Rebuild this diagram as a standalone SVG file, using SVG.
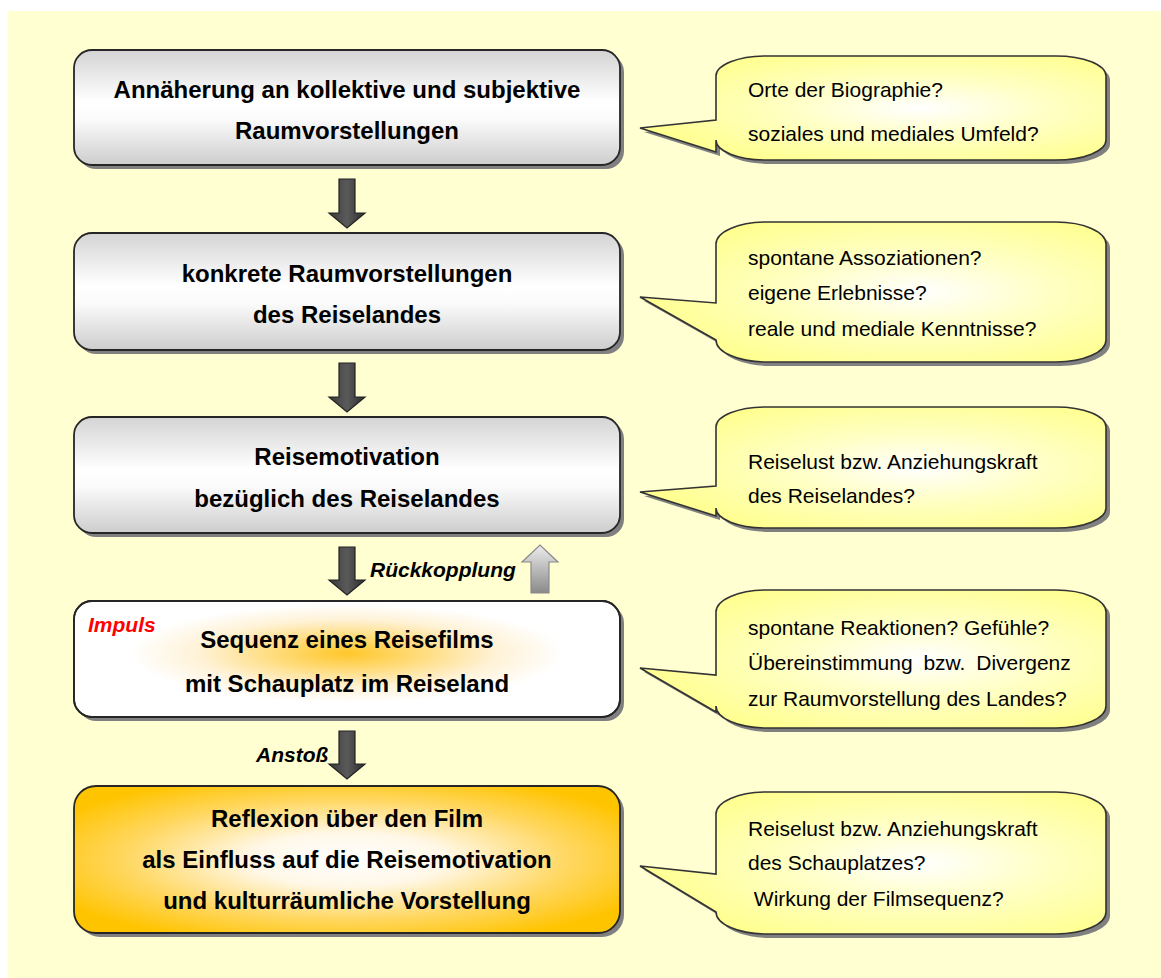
<svg xmlns="http://www.w3.org/2000/svg" width="1161" height="978" viewBox="0 0 1161 978">
  <defs>
    <linearGradient id="gGray" x1="0" y1="0" x2="0" y2="1">
      <stop offset="0" stop-color="#d4d4d4"/>
      <stop offset="0.45" stop-color="#ffffff"/>
      <stop offset="0.6" stop-color="#fbfbfb"/>
      <stop offset="1" stop-color="#cdcdcd"/>
    </linearGradient>
    <radialGradient id="gImpuls" cx="0.5" cy="0.45" r="0.5">
      <stop offset="0" stop-color="#ffc72a"/>
      <stop offset="0.3" stop-color="#ffdc7c"/>
      <stop offset="0.6" stop-color="#fff2d6"/>
      <stop offset="0.88" stop-color="#ffffff"/>
      <stop offset="1" stop-color="#ffffff"/>
    </radialGradient>
    <radialGradient id="gGold" cx="0.5" cy="0.5" r="0.6">
      <stop offset="0" stop-color="#ffffff"/>
      <stop offset="0.3" stop-color="#fff8e8"/>
      <stop offset="0.68" stop-color="#ffd760"/>
      <stop offset="1" stop-color="#ffc400"/>
    </radialGradient>
    <radialGradient id="gBubble" cx="0.6" cy="0.5" r="0.6">
      <stop offset="0" stop-color="#ffffff"/>
      <stop offset="0.45" stop-color="#ffffc6"/>
      <stop offset="1" stop-color="#ffff90"/>
    </radialGradient>
    <linearGradient id="gDark" x1="0" y1="0" x2="1" y2="0">
      <stop offset="0" stop-color="#3a3a3a"/>
      <stop offset="0.5" stop-color="#5a5a5a"/>
      <stop offset="1" stop-color="#2e2e2e"/>
    </linearGradient>
    <linearGradient id="gLight" x1="0" y1="0" x2="0" y2="1">
      <stop offset="0" stop-color="#ececec"/>
      <stop offset="1" stop-color="#8a8a8a"/>
    </linearGradient>
  </defs>
  <style>
    .box { stroke: #262626; stroke-width: 1.8; }
    .shadow { fill: #808080; }
    .bubble { fill: url(#gBubble); stroke: #333333; stroke-width: 1.6; }
    .main { font-family: "Liberation Sans", Arial, sans-serif; font-weight: bold; font-size: 24px; fill: #000000; text-anchor: middle; }
    .note { font-family: "Liberation Sans", Arial, sans-serif; font-size: 21px; fill: #000000; }
    .tag { font-family: "Liberation Sans", Arial, sans-serif; font-weight: bold; font-style: italic; font-size: 21px; fill: #000000; }
    .red { fill: #ff0000; }
    .down { fill: url(#gDark); stroke: #222222; stroke-width: 1.2; }
    .up { fill: url(#gLight); stroke: #8a8a8a; stroke-width: 1.2; }
  </style>

  <!-- backdrop panel -->
  <rect x="8" y="11" width="1153" height="967" fill="#ffffd2"/>

  <!-- process steps -->
  <g id="step1">
    <rect class="shadow" x="78" y="54" width="546" height="115" rx="18"/>
    <rect class="box" x="74" y="50" width="546" height="115" rx="18" fill="url(#gGray)"/>
    <text class="main" x="347" y="98">Annäherung an kollektive und subjektive</text>
    <text class="main" x="347" y="139">Raumvorstellungen</text>
  </g>
  <g id="step2">
    <rect class="shadow" x="78" y="237" width="546" height="117" rx="18"/>
    <rect class="box" x="74" y="233" width="546" height="117" rx="18" fill="url(#gGray)"/>
    <text class="main" x="347" y="282">konkrete Raumvorstellungen</text>
    <text class="main" x="347" y="323">des Reiselandes</text>
  </g>
  <g id="step3">
    <rect class="shadow" x="78" y="421" width="546" height="116" rx="18"/>
    <rect class="box" x="74" y="417" width="546" height="116" rx="18" fill="url(#gGray)"/>
    <text class="main" x="347" y="465">Reisemotivation</text>
    <text class="main" x="347" y="507">bezüglich des Reiselandes</text>
  </g>
  <g id="step4">
    <rect class="shadow" x="78" y="605" width="546" height="116" rx="18"/>
    <rect class="box" x="74" y="601" width="546" height="116" rx="18" fill="#ffffff"/>
    <rect x="100" y="603" width="494" height="112" fill="url(#gImpuls)"/>
    <rect x="74" y="601" width="546" height="116" rx="18" fill="none" stroke="#262626" stroke-width="1.8"/>
    <text class="tag red" x="88" y="632">Impuls</text>
    <text class="main" x="347" y="648">Sequenz eines Reisefilms</text>
    <text class="main" x="347" y="692">mit Schauplatz im Reiseland</text>
  </g>
  <g id="step5">
    <rect class="shadow" x="78" y="790" width="546" height="147" rx="22"/>
    <rect class="box" x="74" y="786" width="546" height="147" rx="22" fill="url(#gGold)"/>
    <text class="main" x="347" y="827">Reflexion über den Film</text>
    <text class="main" x="347" y="868">als Einfluss auf die Reisemotivation</text>
    <text class="main" x="347" y="909">und kulturräumliche Vorstellung</text>
  </g>

  <!-- question bubbles -->
  <g id="note1">
    <path class="shadow" transform="translate(4,4)" d="M766,56 H1056 A50,20 0 0 1 1106,76 V140 A50,20 0 0 1 1056,160 H766 A50,20 0 0 1 716,140 V152 L640,128 L716,120 V76 A50,20 0 0 1 766,56 Z"/>
    <path class="bubble" d="M766,56 H1056 A50,20 0 0 1 1106,76 V140 A50,20 0 0 1 1056,160 H766 A50,20 0 0 1 716,140 V152 L640,128 L716,120 V76 A50,20 0 0 1 766,56 Z"/>
    <text class="note" x="748" y="97">Orte der Biographie?</text>
    <text class="note" x="748" y="141">soziales und mediales Umfeld?</text>
  </g>
  <g id="note2">
    <path class="shadow" transform="translate(4,4)" d="M766,222 H1056 A50,22 0 0 1 1106,244 V340 A50,22 0 0 1 1056,362 H766 A50,22 0 0 1 716,340 L640,297 L716,303 V244 A50,22 0 0 1 766,222 Z"/>
    <path class="bubble" d="M766,222 H1056 A50,22 0 0 1 1106,244 V340 A50,22 0 0 1 1056,362 H766 A50,22 0 0 1 716,340 L640,297 L716,303 V244 A50,22 0 0 1 766,222 Z"/>
    <text class="note" x="748" y="265">spontane Assoziationen?</text>
    <text class="note" x="748" y="300">eigene Erlebnisse?</text>
    <text class="note" x="748" y="336">reale und mediale Kenntnisse?</text>
  </g>
  <g id="note3">
    <path class="shadow" transform="translate(4,4)" d="M766,407 H1056 A50,20 0 0 1 1106,427 V508 A50,20 0 0 1 1056,528 H766 A50,20 0 0 1 716,508 V516 L640,492 L716,486 V427 A50,20 0 0 1 766,407 Z"/>
    <path class="bubble" d="M766,407 H1056 A50,20 0 0 1 1106,427 V508 A50,20 0 0 1 1056,528 H766 A50,20 0 0 1 716,508 V516 L640,492 L716,486 V427 A50,20 0 0 1 766,407 Z"/>
    <text class="note" x="748" y="469">Reiselust bzw. Anziehungskraft</text>
    <text class="note" x="748" y="503">des Reiselandes?</text>
  </g>
  <g id="note4">
    <path class="shadow" transform="translate(4,4)" d="M766,590 H1056 A50,22 0 0 1 1106,612 V706 A50,22 0 0 1 1056,728 H766 A50,22 0 0 1 716,706 V712 L640,668 L716,675 V612 A50,22 0 0 1 766,590 Z"/>
    <path class="bubble" d="M766,590 H1056 A50,22 0 0 1 1106,612 V706 A50,22 0 0 1 1056,728 H766 A50,22 0 0 1 716,706 V712 L640,668 L716,675 V612 A50,22 0 0 1 766,590 Z"/>
    <text class="note" x="748" y="635">spontane Reaktionen? Gefühle?</text>
    <text class="note" x="748" y="670" word-spacing="5">Übereinstimmung bzw. Divergenz</text>
    <text class="note" x="748" y="706">zur Raumvorstellung des Landes?</text>
  </g>
  <g id="note5">
    <path class="shadow" transform="translate(4,4)" d="M766,792 H1056 A50,22 0 0 1 1106,814 V912 A50,22 0 0 1 1056,934 H766 A50,22 0 0 1 716,912 L640,866 L716,874 V814 A50,22 0 0 1 766,792 Z"/>
    <path class="bubble" d="M766,792 H1056 A50,22 0 0 1 1106,814 V912 A50,22 0 0 1 1056,934 H766 A50,22 0 0 1 716,912 L640,866 L716,874 V814 A50,22 0 0 1 766,792 Z"/>
    <text class="note" x="748" y="836">Reiselust bzw. Anziehungskraft</text>
    <text class="note" x="748" y="870">des Schauplatzes?</text>
    <text class="note" x="748" y="906" xml:space="preserve"> Wirkung der Filmsequenz?</text>
  </g>

  <!-- connectors -->
  <g id="connectors">
    <path class="down" d="M339,179 H355 V213 H365 L347,228 L329,213 H339 Z"/>
    <path class="down" d="M339,363 H355 V397 H365 L347,412 L329,397 H339 Z"/>
    <path class="down" d="M339,547 H355 V580 H365 L347,595 L329,580 H339 Z"/>
    <path class="up" d="M531,593 H549 V562 H558 L540,545 L522,562 H531 Z"/>
    <text class="tag" x="370" y="577">Rückkopplung</text>
    <path class="down" d="M339,731 H355 V764 H365 L347,779 L329,764 H339 Z"/>
    <text class="tag" x="256" y="762">Anstoß</text>
  </g>
</svg>
